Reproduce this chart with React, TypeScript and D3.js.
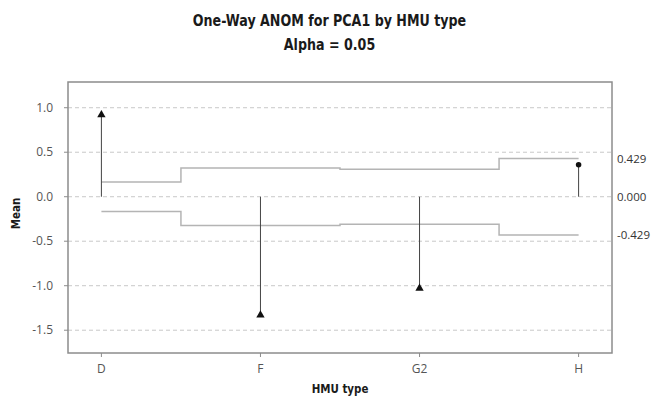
import React from "react";
import * as d3 from "d3";

// ANOM results for PCA1 grouped by HMU type
const categories = ["D", "F", "G2", "H"];
const means = [0.92, -1.33, -1.03, 0.36];
const upperLimits = [0.165, 0.322, 0.308, 0.429];
const lowerLimits = [-0.165, -0.322, -0.308, -0.429];
const centerValue = 0;
const yTicks = [1.0, 0.5, 0.0, -0.5, -1.0, -1.5];

const W = 655;
const H = 398;
const margin = { left: 68, right: 43, top: 82, bottom: 45 };

const locale = d3.formatLocale({
  decimal: ".",
  thousands: ",",
  grouping: [3],
  currency: ["", ""],
  minus: "-",
});

export default function App() {
  const x = d3
    .scaleLinear()
    .domain([-0.21, categories.length - 1 + 0.21])
    .range([margin.left, W - margin.right]);
  const y = d3
    .scaleLinear()
    .domain([-1.756, 1.289])
    .range([H - margin.bottom, margin.top]);

  const stepPoints = (vals: number[]) => {
    const pts: [number, number][] = [];
    vals.forEach((v, i) => {
      const a = i === 0 ? 0 : i - 0.5;
      const b = i === vals.length - 1 ? i : i + 0.5;
      pts.push([a, v], [b, v]);
    });
    return pts;
  };
  const line = d3
    .line<[number, number]>()
    .x((d) => x(d[0]))
    .y((d) => y(d[1]));

  const tri = d3.symbol().type(d3.symbolTriangle).size(30)() as string;
  const dot = d3.symbol().type(d3.symbolCircle).size(24)() as string;
  const fmt = locale.format(".1f");
  const fmt3 = locale.format(".3f");
  const last = categories.length - 1;

  const font = "'Open Sans', 'DejaVu Sans', sans-serif";
  const boldFont = "'DejaVu Sans Condensed', 'DejaVu Sans', sans-serif";
  const narrow = 0.88;

  // bold narrow label centred at (cx, cy)
  const BoldText = (p: { cx: number; cy: number; size: number; rotate?: number; children: string }) => (
    <text
      transform={`translate(${p.cx},${p.cy}) rotate(${p.rotate || 0}) scale(${narrow},1)`}
      textAnchor="middle"
      fontFamily={boldFont}
      fontWeight="bold"
      fontSize={p.size}
      fill="#1a1a1a"
    >
      {p.children}
    </text>
  );

  return (
    <svg
      width={W}
      height={H}
      style={{ position: "absolute", left: 0, top: 0, background: "#fff" }}
    >
      <BoldText cx={W / 2 + 2} cy={26} size={16}>One-Way ANOM for PCA1 by HMU type</BoldText>
      <BoldText cx={W / 2 + 2} cy={50} size={16}>Alpha = 0.05</BoldText>

      {/* grid lines */}
      {yTicks.map((t) => (
        <line
          key={"g" + t}
          x1={margin.left}
          x2={W - margin.right}
          y1={y(t)}
          y2={y(t)}
          stroke="#c8c8c8"
          strokeDasharray="4,3"
          strokeWidth={1}
        />
      ))}

      {/* decision limits */}
      <path d={line(stepPoints(upperLimits)) || ""} fill="none" stroke="#b4b4b4" strokeWidth={1.5} />
      <path d={line(stepPoints(lowerLimits)) || ""} fill="none" stroke="#b4b4b4" strokeWidth={1.5} />

      {/* group means */}
      {categories.map((c, i) => {
        const out = means[i] > upperLimits[i] || means[i] < lowerLimits[i];
        return (
          <g key={c}>
            <line x1={x(i)} x2={x(i)} y1={y(centerValue)} y2={y(means[i])} stroke="#444" strokeWidth={1} />
            <path d={out ? tri : dot} transform={`translate(${x(i)},${y(means[i])})`} fill="#111" />
          </g>
        );
      })}

      {/* frame */}
      <rect
        x={margin.left}
        y={margin.top}
        width={W - margin.left - margin.right}
        height={H - margin.top - margin.bottom}
        fill="none"
        stroke="#8c8c8c"
        strokeWidth={1.5}
      />

      {/* y axis */}
      {yTicks.map((t) => (
        <g key={"t" + t}>
          <line x1={margin.left - 4} x2={margin.left} y1={y(t)} y2={y(t)} stroke="#8c8c8c" />
          <text x={margin.left - 15} y={y(t) + 4} textAnchor="end" fontFamily={font} fontSize={12} fill="#555">
            {fmt(t)}
          </text>
        </g>
      ))}
      <BoldText cx={20} cy={(margin.top + H - margin.bottom) / 2 - 4} size={13} rotate={-90}>Mean</BoldText>

      {/* x axis */}
      {categories.map((c, i) => (
        <g key={"x" + c}>
          <line x1={x(i)} x2={x(i)} y1={H - margin.bottom} y2={H - margin.bottom + 4} stroke="#8c8c8c" />
          <text x={x(i)} y={H - margin.bottom + 20} textAnchor="middle" fontFamily={font} fontSize={12} fill="#555">
            {c}
          </text>
        </g>
      ))}
      <BoldText cx={(margin.left + W - margin.right) / 2} cy={H - 5} size={13}>HMU type</BoldText>

      {/* limit labels */}
      {[upperLimits[last], centerValue, lowerLimits[last]].map((v, k) => (
        <text key={"l" + k} x={W - margin.right + 5} y={y(v) + 4} fontFamily={font} fontSize={11.5} fill="#333">
          {fmt3(v)}
        </text>
      ))}
    </svg>
  );
}
